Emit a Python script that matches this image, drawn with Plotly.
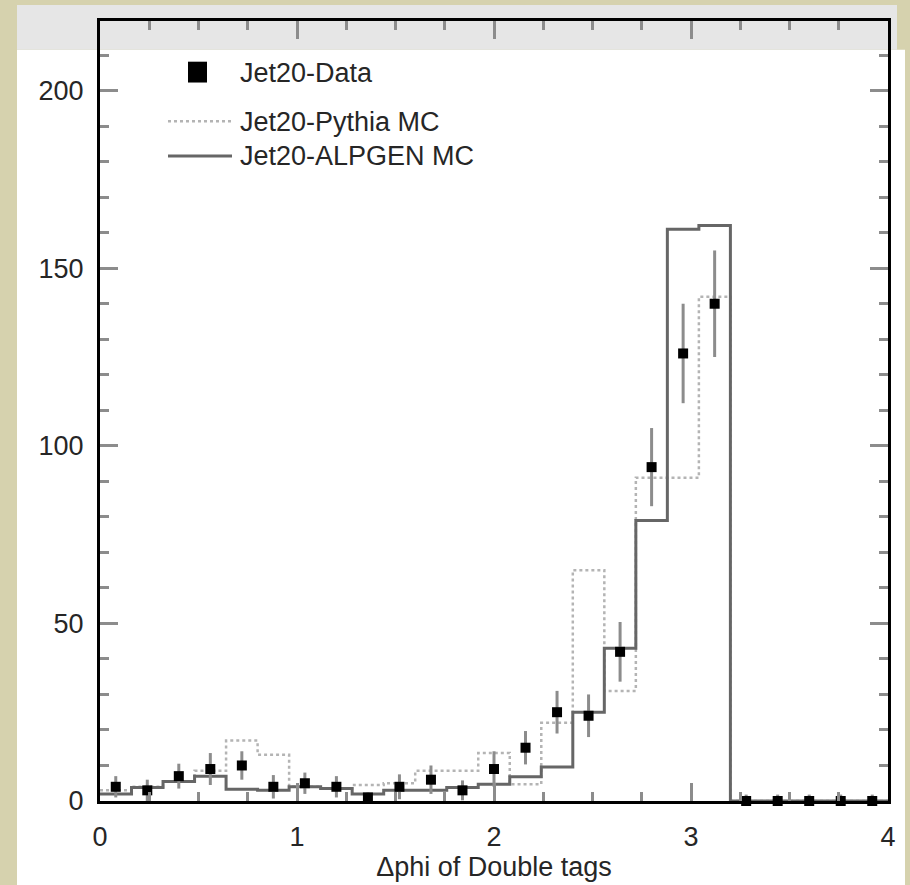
import numpy as np
import plotly.graph_objects as go

# 25 bins of width 0.16 in delta-phi, from 0 to 4
bin_edges = np.linspace(0.0, 4.0, 26)
bin_centers = 0.5 * (bin_edges[:-1] + bin_edges[1:])

data_counts = [4, 3, 7, 9, 10, 4, 5, 4, 1, 4, 6, 3, 9, 15, 25, 24, 42, 94, 126, 140,
               0, 0, 0, 0, 0]
data_errors = [3, 3, 3.5, 4.5, 4, 3.3, 3, 3, 1.5, 3.5, 4, 2.8, 5, 4.7, 6, 6, 8.4, 11, 14, 15,
               1.8, 1.8, 1.8, 1.8, 1.8]
pythia_mc = [3, 4, 5.5, 8.5, 17, 13, 4, 3.5, 4.5, 5, 8.5, 8.5, 13.5, 4.7, 22, 65, 31, 91, 91, 142,
             0, 0, 0, 0, 0]
alpgen_mc = [2, 3.8, 5.5, 7, 3.3, 3, 4, 3.5, 2, 3, 3, 3.8, 4.7, 6.8, 9.6, 25, 43, 79, 161, 162,
             0, 0, 0, 0, 0]

x_ticks = [0, 1, 2, 3, 4]
y_ticks = [0, 50, 100, 150, 200]

legend_labels = ["Jet20-Data", "Jet20-Pythia MC", "Jet20-ALPGEN MC"]

FONT = "Liberation Sans, Arial, sans-serif"
TXT = "#262626"

W, H = 910, 885
L, R, T, B = 100, 22, 21, 78
PW, PH = W - L - R, H - T - B


def px(xp):
    return (xp - L) / PW


def py(yp):
    return (H - B - yp) / PH


def step_xy(values):
    xs = list(bin_edges[:-1]) + [bin_edges[-1]]
    ys = list(values) + [values[-1]]
    return xs, ys


fig = go.Figure()

xs, ys = step_xy(pythia_mc)
fig.add_trace(go.Scatter(x=xs, y=ys, mode="lines", line_shape="hv",
                         line=dict(color="#b4b4b4", width=2.5, dash="dot"),
                         name=legend_labels[1], showlegend=False))

xs, ys = step_xy(alpgen_mc)
fig.add_trace(go.Scatter(x=xs, y=ys, mode="lines", line_shape="hv",
                         line=dict(color="#666666", width=3),
                         name=legend_labels[2], showlegend=False))

fig.add_trace(go.Scatter(x=bin_centers, y=data_counts, mode="markers",
                         marker=dict(symbol="square", size=10, color="black"),
                         error_y=dict(type="data", array=data_errors, visible=True,
                                      color="#8c8c8c", thickness=3, width=0),
                         cliponaxis=False,
                         name=legend_labels[0], showlegend=False))

shapes = [
    # white page panel behind the plot
    dict(type="rect", xref="paper", yref="paper", layer="below",
         x0=px(17), x1=px(905), y0=py(900), y1=py(50),
         fillcolor="white", line=dict(width=0)),
    # grey header band
    dict(type="rect", xref="paper", yref="paper", layer="below",
         x0=px(17), x1=px(897), y0=py(50), y1=py(5),
         fillcolor="#e6e6e6", line=dict(width=0)),
    # legend samples
    dict(type="rect", xref="paper", yref="paper",
         x0=px(188), x1=px(207), y0=py(83), y1=py(62),
         fillcolor="black", line=dict(width=0)),
    dict(type="line", xref="paper", yref="paper",
         x0=px(168), x1=px(232), y0=py(122), y1=py(122),
         line=dict(color="#b4b4b4", width=2.5, dash="dot")),
    dict(type="line", xref="paper", yref="paper",
         x0=px(168), x1=px(232), y0=py(157), y1=py(157),
         line=dict(color="#666666", width=3)),
]

annotations = []
for label, yp in zip(legend_labels, [73, 123, 157]):
    annotations.append(dict(text=label, xref="paper", yref="paper",
                            x=px(238), y=py(yp), xanchor="left", yanchor="middle",
                            showarrow=False, font=dict(family=FONT, size=27, color=TXT)))

fig.update_layout(
    width=W, height=H,
    margin=dict(l=L, r=R, t=T, b=B, pad=0),
    paper_bgcolor="#d6d2ae",
    plot_bgcolor="rgba(0,0,0,0)",
    showlegend=False,
    shapes=shapes,
    annotations=annotations,
    font=dict(family=FONT, size=27, color=TXT),
)

axis_common = dict(
    showgrid=False, zeroline=False,
    showline=True, linecolor="black", linewidth=3, mirror="ticks",
    ticks="inside", tickcolor="#8c8c8c", tickwidth=2.5, ticklen=18,
    tickfont=dict(family=FONT, size=27, color=TXT),
)

fig.update_xaxes(
    range=[0, 4], tickvals=x_ticks, ticktext=[str(v) for v in x_ticks],
    minor=dict(dtick=0.25, tick0=0, ticks="inside", ticklen=9,
               tickcolor="#8c8c8c", tickwidth=2.5),
    title=dict(text="Δphi of Double tags", font=dict(family=FONT, size=27, color=TXT),
               standoff=2),
    ticklabelstandoff=10,
    **axis_common,
)
fig.update_yaxes(
    range=[0, 219.6], tickvals=y_ticks, ticktext=[str(v) for v in y_ticks],
    minor=dict(dtick=10, tick0=0, ticks="inside", ticklen=9,
               tickcolor="#8c8c8c", tickwidth=2.5),
    ticklabelstandoff=8,
    **axis_common,
)

fig.write_html("out.html")
